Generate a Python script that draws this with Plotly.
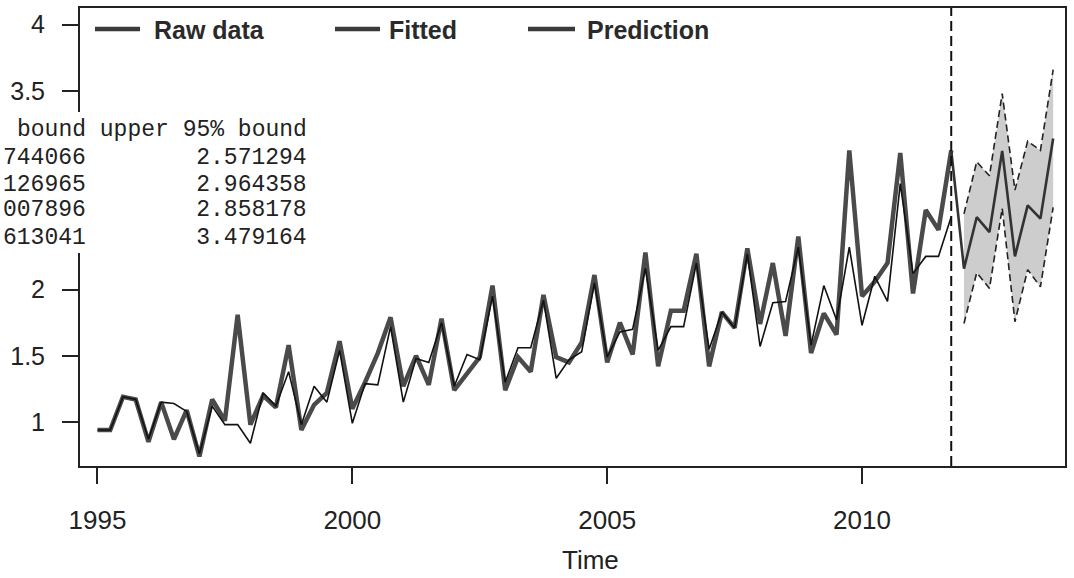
import plotly.graph_objects as go

# ---- data (quarterly series, start 1995 Q1) ----
start_year = 1995
freq = 4
raw_data = [0.94, 0.94, 1.19, 1.17, 0.85, 1.15, 0.87, 1.09,
            0.74, 1.17, 1.01, 1.81, 0.98, 1.20, 1.11, 1.58,
            0.94, 1.13, 1.22, 1.61, 1.10, 1.30, 1.52, 1.79,
            1.27, 1.50, 1.28, 1.78, 1.24, 1.37, 1.49, 2.03,
            1.24, 1.49, 1.38, 1.96, 1.49, 1.45, 1.60, 2.11,
            1.45, 1.75, 1.51, 2.28, 1.42, 1.84, 1.84, 2.27,
            1.42, 1.83, 1.71, 2.31, 1.74, 2.20, 1.65, 2.40,
            1.52, 1.82, 1.66, 3.05, 1.95, 2.06, 2.20, 3.03,
            1.97, 2.60, 2.45, 3.05]
fitted = [0.94, 0.94, 1.19, 1.17, 0.87, 1.15, 1.14, 1.08,
          0.76, 1.12, 0.98, 0.98, 0.84, 1.22, 1.12, 1.38,
          0.98, 1.27, 1.15, 1.54, 0.99, 1.29, 1.28, 1.72,
          1.15, 1.48, 1.45, 1.75, 1.27, 1.51, 1.47, 1.95,
          1.30, 1.56, 1.56, 1.92, 1.33, 1.47, 1.53, 2.05,
          1.49, 1.68, 1.70, 2.16, 1.54, 1.72, 1.72, 2.20,
          1.55, 1.83, 1.71, 2.27, 1.57, 1.90, 1.91, 2.32,
          1.58, 2.03, 1.77, 2.32, 1.73, 2.10, 1.91, 2.80,
          2.12, 2.25, 2.25, 2.55]
prediction = [2.158, 2.546, 2.433, 3.046, 2.25, 2.635, 2.535, 3.14]
lower_95 = [1.744066, 2.126965, 2.007896, 2.613041, 1.757, 2.15, 2.02, 2.62]
upper_95 = [2.571294, 2.964358, 2.858178, 3.479164, 2.75, 3.12, 3.05, 3.66]
forecast_origin = 2011.75

x_ticks = [1995, 2000, 2005, 2010]
y_ticks = [1, 1.5, 2, 3.5, 4]
legend_labels = ["Raw data", "Fitted", "Prediction"]
table_lines = ["bound upper 95% bound",
               "744066        2.571294",
               "126965        2.964358",
               "007896        2.858178",
               "613041        3.479164"]

t_obs = [start_year + i / freq for i in range(len(raw_data))]
t_pred = [t_obs[-1] + (i + 1) / freq for i in range(len(prediction))]

# ---- layout geometry (pixels) ----
W, H = 1074, 578
L, R, T, B = 80, 9, 8, 112
PW, PH = W - L - R, H - T - B


def xp(px):
    return (px - L) / PW


def yp(py):
    return (H - B - py) / PH


fig = go.Figure()

# prediction band
fig.add_trace(go.Scatter(x=t_pred, y=lower_95, mode="lines",
                         line=dict(width=0, color="rgba(0,0,0,0)"),
                         showlegend=False, hoverinfo="skip"))
fig.add_trace(go.Scatter(x=t_pred, y=upper_95, mode="lines", fill="tonexty",
                         fillcolor="#cdcdcd",
                         line=dict(width=0, color="rgba(0,0,0,0)"),
                         showlegend=False, hoverinfo="skip"))
# dashed bounds
fig.add_trace(go.Scatter(x=t_pred, y=upper_95, mode="lines",
                         line=dict(color="#222", width=1.6, dash="7px,4px"),
                         showlegend=False))
fig.add_trace(go.Scatter(x=t_pred, y=lower_95, mode="lines",
                         line=dict(color="#222", width=1.6, dash="7px,4px"),
                         showlegend=False))
# raw data
fig.add_trace(go.Scatter(x=t_obs, y=raw_data, mode="lines", name="Raw data",
                         line=dict(color="#4a4a4a", width=4.5),
                         showlegend=False))
# fitted
fig.add_trace(go.Scatter(x=t_obs, y=fitted, mode="lines", name="Fitted",
                         line=dict(color="#111", width=1.6),
                         showlegend=False))
# prediction
fig.add_trace(go.Scatter(x=[t_obs[-1]] + t_pred, y=[raw_data[-1]] + prediction,
                         mode="lines", name="Prediction",
                         line=dict(color="#333", width=2.6),
                         showlegend=False))

shapes = []
# vertical dashed line at forecast origin
shapes.append(dict(type="line", xref="x", yref="paper", x0=forecast_origin,
                   x1=forecast_origin, y0=0, y1=1,
                   line=dict(color="#111", width=2, dash="10px,5px")))
# white box of the overlaid printout
shapes.append(dict(type="rect", xref="paper", yref="paper",
                   x0=xp(-5), x1=xp(318), y0=yp(253), y1=yp(112),
                   fillcolor="white", line=dict(width=0), layer="above"))
# manual legend lines
for (a, b) in [(95, 140), (335, 380), (528, 575)]:
    shapes.append(dict(type="line", xref="paper", yref="paper",
                       x0=xp(a), x1=xp(b), y0=yp(29), y1=yp(29),
                       line=dict(color="#3a3a3a", width=4.5)))

annotations = []
for lab, px in zip(legend_labels, [152, 387, 585]):
    annotations.append(dict(text="<b>%s</b>" % lab, xref="paper", yref="paper",
                            x=xp(px), y=yp(30), xanchor="left", yanchor="middle",
                            showarrow=False,
                            font=dict(family="Liberation Sans, Arial", size=25,
                                      color="#2a2a2a")))
for line, py in zip(table_lines, [130, 158, 185, 210, 238]):
    annotations.append(dict(text=line.replace(" ", "&nbsp;"), xref="paper",
                            yref="paper", x=xp(309), y=yp(py),
                            xanchor="right", yanchor="middle", showarrow=False,
                            font=dict(family="Liberation Mono, DejaVu Sans Mono, monospace",
                                      size=23, color="#222")))
annotations.append(dict(text="Time", xref="paper", yref="paper",
                        x=xp(590), y=yp(560), xanchor="center", yanchor="middle",
                        showarrow=False,
                        font=dict(family="Liberation Sans, Arial", size=26,
                                  color="#222")))

fig.update_layout(
    width=W, height=H,
    margin=dict(l=L, r=R, t=T, b=B, pad=0, autoexpand=False),
    paper_bgcolor="white", plot_bgcolor="white",
    shapes=shapes, annotations=annotations,
    showlegend=False,
    xaxis=dict(range=[1994.657, 2013.982], tickvals=x_ticks,
               ticktext=[str(v) for v in x_ticks], automargin=False,
               ticks="outside", ticklen=16, tickwidth=1.6, tickcolor="#222",
               showgrid=False, zeroline=False, showline=True, mirror=True,
               linecolor="#222", linewidth=2, ticklabelstandoff=14,
               tickfont=dict(family="Liberation Sans, Arial", size=26, color="#222")),
    yaxis=dict(range=[0.668, 4.125], tickvals=y_ticks,
               ticktext=["1", "1.5", "2", "3.5", "4"], automargin=False,
               ticks="outside", ticklen=16, tickwidth=1.6, tickcolor="#222",
               showgrid=False, zeroline=False, showline=True, mirror=True,
               linecolor="#222", linewidth=2, ticklabelstandoff=12,
               tickfont=dict(family="Liberation Sans, Arial", size=25, color="#222")),
)

fig.write_html("out.html", config={"displayModeBar": False},
               post_script="document.body.style.margin='0';"
                           "document.body.style.overflow='hidden';")
